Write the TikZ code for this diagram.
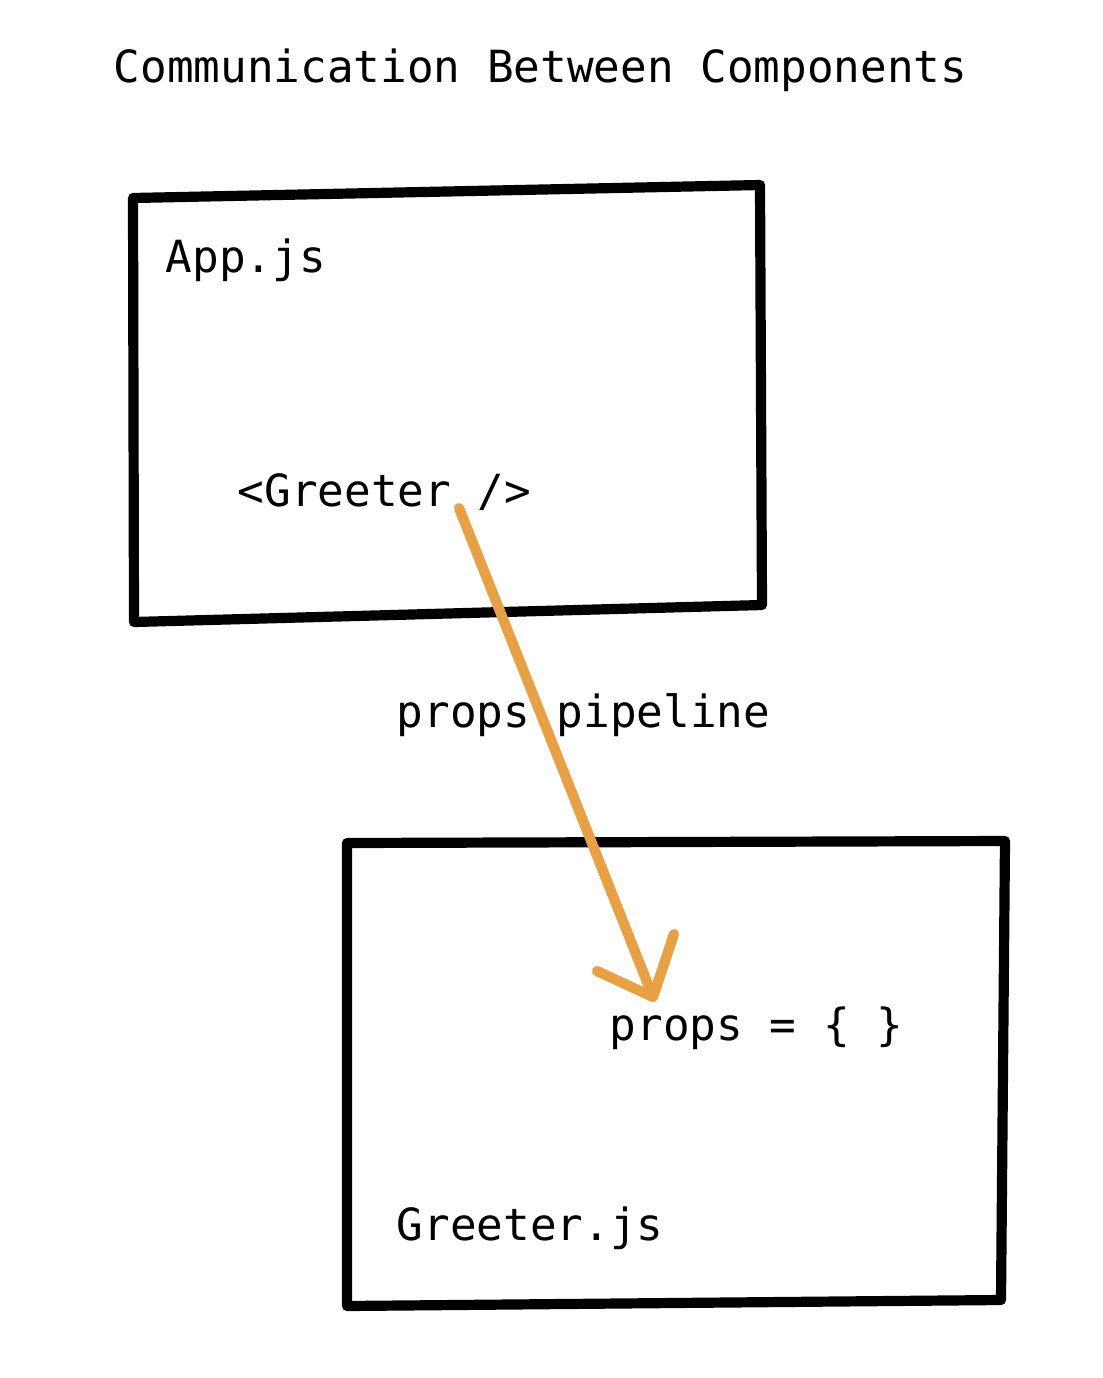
\documentclass[tikz,border=0pt]{standalone}
\usepackage{fontspec}
\setmonofont{DejaVu Sans Mono}
\definecolor{pipeorange}{HTML}{E8A043}

\begin{document}
\begin{tikzpicture}[x=0.01cm, y=-0.01cm]
        \tikzset{
          every node/.style={inner sep=0pt, anchor=base west, font=\ttfamily\fontsize{12.6}{14}\selectfont},
          sketch/.style={black, line width=2.9pt, line join=round, line cap=round},
          pipe/.style={pipeorange, line width=2.9pt, line join=round, line cap=round}
        }
        \useasboundingbox (0,0) rectangle (1102,1378);
        % title
        \node (title) at (113,82) {Communication Between Components};
        % App.js box
        \coordinate (app nw) at (133,198);
        \coordinate (app ne) at (760,185);
        \coordinate (app se) at (762,605);
        \coordinate (app sw) at (134,622);
        \draw [sketch] (app nw) -- (app ne) -- (app se) -- (app sw) -- cycle;
        \node (appjs) at (165,272) {App.js};
        \node (greeter tag) at (237,506) {<Greeter />};
        % Greeter.js box
        \coordinate (gr nw) at (347,843);
        \coordinate (gr ne) at (1005,841);
        \coordinate (gr se) at (1001,1300);
        \coordinate (gr sw) at (347,1306);
        \draw [sketch] (gr nw) -- (gr ne) -- (gr se) -- (gr sw) -- cycle;
        \node (propsobj) at (609,1040) {props = \{ \}};
        \node (greeterjs) at (396,1240) {Greeter.js};
        % props pipeline
        \node (pipelabel) at (396,727) {props pipeline};
        \coordinate (pipe start) at (459,508);
        \coordinate (pipe tip) at (653,997);
        \coordinate (head left) at (597,971);
        \coordinate (head right) at (674,934);
        \draw [pipe] (pipe start) -- (pipe tip);
        \draw [pipe] (head left) -- (pipe tip) -- (head right);
\end{tikzpicture}
\end{document}
